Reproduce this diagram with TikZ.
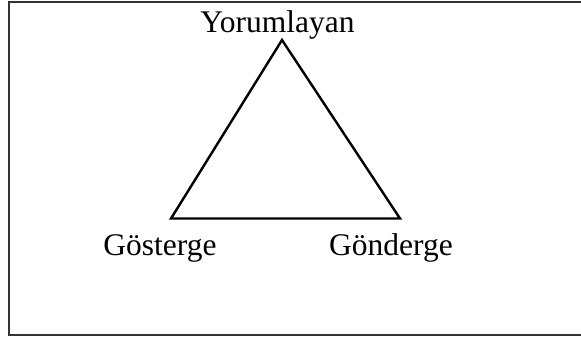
\documentclass[tikz,border=0pt]{standalone}
\usepackage{fontspec}
\setmainfont{Liberation Serif}
\begin{document}
\begin{tikzpicture}[x=1pt,y=-1pt,
  lbl/.style={font=\fontsize{31.5}{32}\selectfont, inner sep=0pt, anchor=base},
  tri/.style={line width=2.4pt, line join=miter}]
\useasboundingbox (0,0) rectangle (581,338);
\begin{scope}
\clip (0,0) rectangle (581,338);
\draw[line width=2pt, draw=black!80] (9,2) rectangle (600,334.5);
\end{scope}
\coordinate (A) at (282,40);
\coordinate (B) at (171,218.5);
\coordinate (C) at (400,218.5);
\draw[tri] (A) -- (B) -- (C) -- cycle;
\node[lbl] (y) at (277.5,32) {Yorumlayan};
\node[lbl] (g) at (160,255) {Gösterge};
\node[lbl] (d) at (391,255) {Gönderge};
\end{tikzpicture}
\end{document}
